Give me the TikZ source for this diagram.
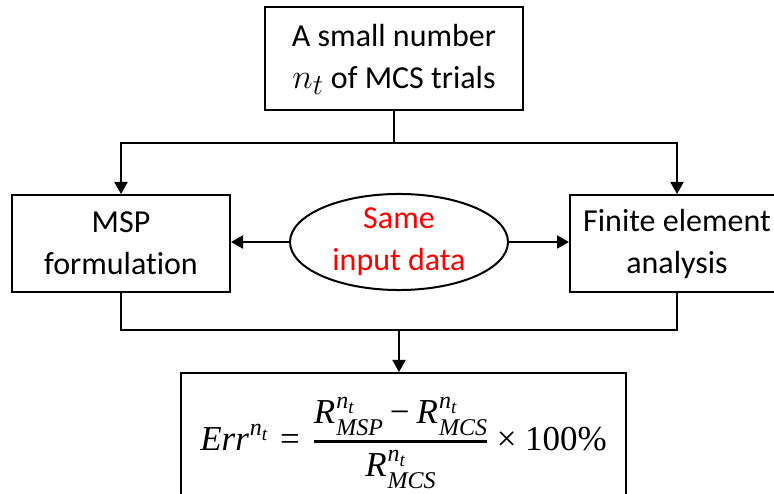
\documentclass[tikz,border=0pt]{standalone}
\usepackage{amsmath}
\usepackage{fontspec}
\setmainfont{Carlito}[Ligatures=NoCommon]
\newfontfamily\fmfont{Liberation Serif}
\newcommand\ntsup{\raisebox{15pt}{\fontsize{24}{24}\selectfont n\raisebox{-5pt}{\fontsize{19}{19}\selectfont t}}}
\newcommand\RRR[1]{R\kern1pt\rlap{\ntsup}\raisebox{-12pt}{\fontsize{24}{24}\selectfont #1}}
\usetikzlibrary{arrows.meta,shapes.geometric}
\begin{document}
\begin{tikzpicture}[x=1pt,y=-1pt,
  line width=2pt,
  box/.style={draw,rectangle,align=center,inner sep=0pt,font=\fontsize{32}{42}\selectfont},
  oval/.style={draw,ellipse,align=center,inner sep=0pt,text=red,font=\fontsize{32}{42}\selectfont},
  arr/.style={-{Triangle[length=12pt,width=13pt]}}]
\useasboundingbox (0,0) rectangle (774,494);
\node[box,minimum width=258pt,minimum height=103pt] (top) at (394,59) {A small number\\\scalebox{1.4}{$n_t$} of MCS trials};
\node[box,minimum width=218pt,minimum height=97pt] (msp) at (121,243.5) {MSP\\formulation};
\node[oval,minimum width=218pt,minimum height=91pt] (ell) at (399,242) {Same\\input data};
\node[box,minimum width=214pt,minimum height=97pt] (fea) at (677,243.5) {Finite element\\analysis};
\node[box,minimum width=445pt,minimum height=140pt,font=\fontsize{35}{40}\selectfont\fmfont] (bot) at (403.5,443)
 {$\displaystyle \mbox{\itshape Err\kern1pt\ntsup}\mathrel{\mbox{\kern6pt=\kern6pt}}\raisebox{3pt}{$\displaystyle\genfrac{}{}{2.5pt}{0}{\raisebox{0pt}[\height][9pt]{\itshape\RRR{MSP}\kern7pt{\upshape −}\kern7pt\RRR{MCS}}}{\raisebox{0pt}[18pt][\depth]{\itshape\RRR{MCS}}}$}\mathbin{\mbox{\kern3pt×\kern3pt}}\mbox{100\%}$};
\coordinate (j) at (394,143);
\coordinate (k) at (399,330);
\draw (top.south) -- (j);
\draw[arr] (j) -| (msp.north);
\draw[arr] (j) -| (fea.north);
\draw[arr] (ell.west) -- (ell.west -| msp.east);
\draw[arr] (ell.east) -- (ell.east -| fea.west);
\draw (msp.south) |- (k);
\draw (fea.south) |- (k);
\draw[arr] (k) -- (k |- bot.north);
\end{tikzpicture}
\end{document}
